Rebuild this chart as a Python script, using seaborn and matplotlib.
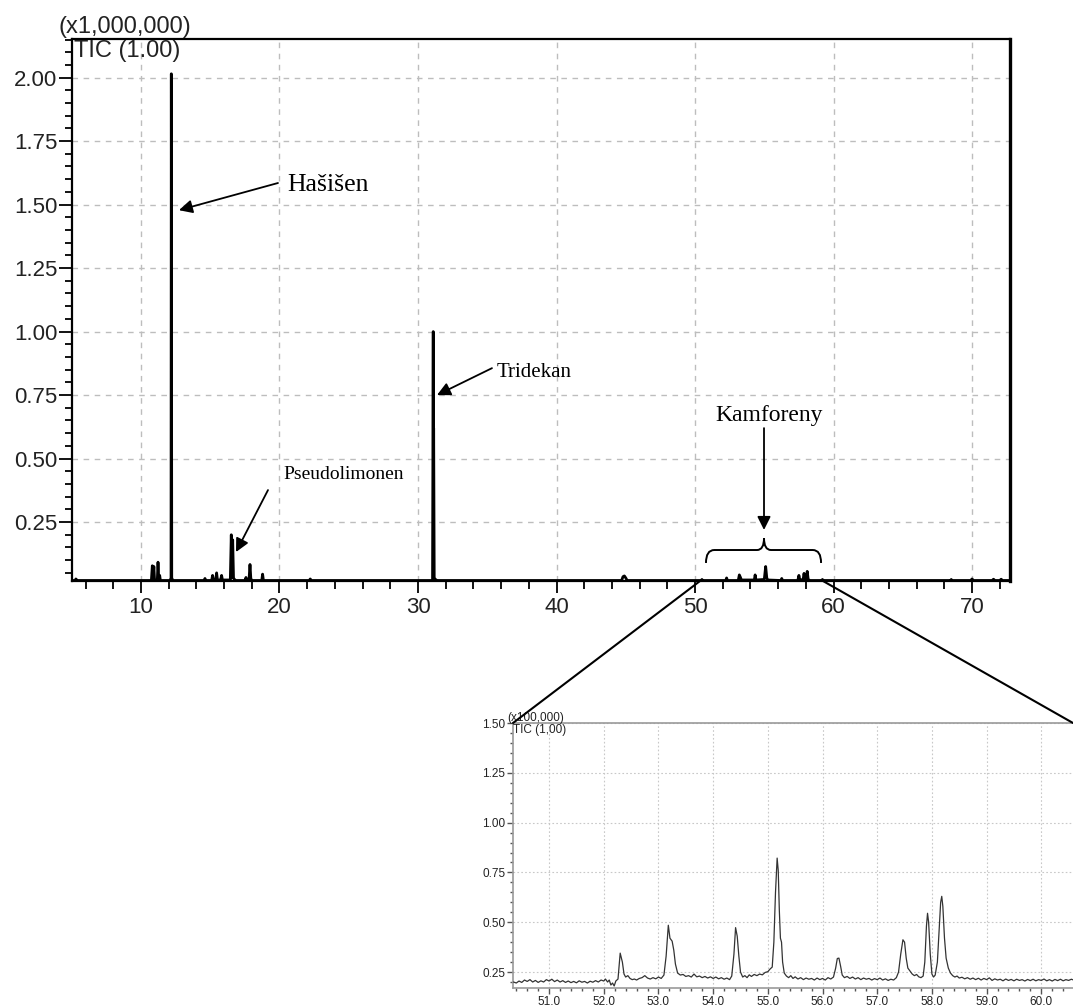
import numpy as np
import pandas as pd
import matplotlib
matplotlib.use("Agg")
import matplotlib.pyplot as plt
from matplotlib.patches import ConnectionPatch, PathPatch
from matplotlib.path import Path
from matplotlib.ticker import MultipleLocator, FormatStrFormatter
import seaborn as sns

# ---------------- data (main chromatogram, intensity x1,000,000) ----------------
main_time = [5.05, 5.25, 5.30, 5.40,
             10.75, 10.82, 10.86, 10.93, 10.98, 11.18, 11.23, 11.28, 11.35, 11.40,
             12.10, 12.17, 12.19, 12.22, 12.30,
             14.55, 14.62, 14.68, 15.10, 15.17, 15.24, 15.40, 15.46, 15.52, 15.75, 15.82, 15.88,
             16.45, 16.52, 16.57, 16.62, 16.68, 16.75, 16.85,
             17.50, 17.58, 17.65, 17.80, 17.87, 17.93, 18.00, 18.72, 18.78, 18.84,
             22.15, 22.22, 22.30,
             31.05, 31.10, 31.115, 31.13, 31.17, 31.30, 31.40,
             44.70, 44.80, 44.90, 45.00, 45.10,
             50.45, 50.50, 50.55, 52.22, 52.28, 52.34, 53.12, 53.20, 53.28, 53.35,
             54.28, 54.34, 54.40, 55.00, 55.10, 55.18, 55.25, 56.20, 56.26, 56.32,
             57.42, 57.50, 57.56, 57.80, 57.87, 57.93, 58.03, 58.10, 58.17, 58.30,
             59.15, 59.20, 59.25,
             68.45, 68.50, 68.55, 69.90, 70.00, 70.10, 71.45, 71.55, 71.65,
             72.00, 72.10, 72.20, 72.70]
main_signal = [0.020, 0.020, 0.026, 0.020,
               0.020, 0.078, 0.025, 0.075, 0.022, 0.022, 0.092, 0.030, 0.040, 0.020,
               0.020, 0.030, 2.015, 0.030, 0.020,
               0.020, 0.028, 0.020, 0.020, 0.040, 0.020, 0.022, 0.050, 0.022, 0.022, 0.040, 0.022,
               0.022, 0.200, 0.030, 0.180, 0.030, 0.024, 0.020,
               0.020, 0.032, 0.022, 0.022, 0.083, 0.028, 0.020, 0.020, 0.045, 0.020,
               0.020, 0.026, 0.020,
               0.020, 1.000, 0.300, 0.620, 0.030, 0.022, 0.020,
               0.020, 0.035, 0.038, 0.030, 0.020,
               0.020, 0.024, 0.020, 0.020, 0.030, 0.020, 0.020, 0.042, 0.032, 0.022,
               0.022, 0.042, 0.022, 0.024, 0.075, 0.030, 0.022, 0.020, 0.028, 0.020,
               0.020, 0.040, 0.024, 0.022, 0.048, 0.024, 0.024, 0.056, 0.024, 0.020,
               0.020, 0.024, 0.020,
               0.020, 0.024, 0.020, 0.020, 0.026, 0.020, 0.020, 0.025, 0.020,
               0.020, 0.025, 0.020, 0.020]

# ---------------- data (inset 50.4-60.6 min, intensity x100,000) ----------------
inset_time = [50.35, 50.40, 50.45, 50.50, 50.55, 50.60, 50.65, 50.70, 50.75, 50.80,
              50.85, 50.90, 50.95, 51.00, 51.05, 51.10, 51.15, 51.20, 51.25, 51.30,
              51.35, 51.40, 51.45, 51.50, 51.55, 51.60, 51.65, 51.70, 51.75, 51.80,
              51.85, 51.90, 51.95, 52.00, 52.03, 52.07, 52.10, 52.13, 52.16, 52.19,
              52.22, 52.26, 52.30, 52.34, 52.37, 52.40, 52.44, 52.48, 52.52, 52.56,
              52.60, 52.65, 52.70, 52.75, 52.80, 52.85, 52.90, 52.95, 53.00, 53.05,
              53.10, 53.14, 53.18, 53.21, 53.25, 53.28, 53.31, 53.35, 53.40, 53.45,
              53.50, 53.55, 53.60, 53.65, 53.70, 53.75, 53.80, 53.85, 53.90, 53.95,
              54.00, 54.05, 54.10, 54.15, 54.20, 54.25, 54.30, 54.34, 54.38, 54.41,
              54.44, 54.47, 54.50, 54.54, 54.58, 54.62, 54.66, 54.70, 54.75, 54.80,
              54.85, 54.90, 54.95, 55.00, 55.04, 55.08, 55.11, 55.14, 55.17, 55.19,
              55.21, 55.23, 55.25, 55.27, 55.30, 55.34, 55.38, 55.42, 55.46, 55.50,
              55.55, 55.60, 55.65, 55.70, 55.75, 55.80, 55.85, 55.90, 55.95, 56.00,
              56.05, 56.10, 56.15, 56.20, 56.24, 56.27, 56.30, 56.33, 56.36, 56.40,
              56.45, 56.50, 56.55, 56.60, 56.65, 56.70, 56.75, 56.80, 56.85, 56.90,
              56.95, 57.00, 57.05, 57.10, 57.15, 57.20, 57.25, 57.30, 57.35, 57.39,
              57.43, 57.47, 57.50, 57.53, 57.56, 57.60, 57.64, 57.68, 57.72, 57.76,
              57.80, 57.84, 57.87, 57.90, 57.92, 57.94, 57.97, 58.00, 58.03, 58.06,
              58.10, 58.13, 58.16, 58.18, 58.20, 58.23, 58.26, 58.30, 58.34, 58.38,
              58.42, 58.46, 58.50, 58.55, 58.60, 58.65, 58.70, 58.75, 58.80, 58.85,
              58.90, 58.95, 59.00, 59.05, 59.10, 59.15, 59.20, 59.25, 59.30, 59.35,
              59.40, 59.45, 59.50, 59.55, 59.60, 59.65, 59.70, 59.75, 59.80, 59.85,
              59.90, 59.95, 60.00, 60.05, 60.10, 60.15, 60.20, 60.25, 60.30, 60.35,
              60.40, 60.45, 60.50, 60.55, 60.60]
inset_signal = [0.200, 0.195, 0.205, 0.198, 0.210, 0.203, 0.212, 0.200, 0.208, 0.198,
                0.206, 0.200, 0.212, 0.205, 0.214, 0.202, 0.210, 0.200, 0.207, 0.198,
                0.205, 0.197, 0.203, 0.196, 0.206, 0.199, 0.203, 0.195, 0.204, 0.199,
                0.207, 0.200, 0.210, 0.205, 0.215, 0.200, 0.210, 0.185, 0.195, 0.180,
                0.205, 0.215, 0.345, 0.300, 0.240, 0.225, 0.232, 0.218, 0.212, 0.215,
                0.210, 0.218, 0.222, 0.232, 0.220, 0.215, 0.222, 0.216, 0.225, 0.218,
                0.235, 0.330, 0.485, 0.420, 0.405, 0.360, 0.290, 0.245, 0.235, 0.238,
                0.228, 0.232, 0.225, 0.240, 0.226, 0.230, 0.222, 0.228, 0.220, 0.226,
                0.218, 0.225, 0.216, 0.222, 0.214, 0.220, 0.212, 0.230, 0.340, 0.473,
                0.430, 0.330, 0.250, 0.225, 0.232, 0.222, 0.236, 0.228, 0.238, 0.232,
                0.240, 0.236, 0.248, 0.252, 0.265, 0.275, 0.400, 0.650, 0.822, 0.760,
                0.560, 0.420, 0.400, 0.300, 0.245, 0.230, 0.222, 0.232, 0.218, 0.226,
                0.215, 0.222, 0.212, 0.220, 0.214, 0.218, 0.210, 0.220, 0.212, 0.218,
                0.210, 0.222, 0.215, 0.225, 0.270, 0.318, 0.320, 0.280, 0.235, 0.222,
                0.228, 0.218, 0.225, 0.215, 0.222, 0.212, 0.220, 0.214, 0.218, 0.210,
                0.217, 0.212, 0.220, 0.210, 0.216, 0.208, 0.214, 0.210, 0.222, 0.250,
                0.340, 0.412, 0.400, 0.320, 0.270, 0.255, 0.240, 0.232, 0.238, 0.226,
                0.222, 0.230, 0.300, 0.480, 0.545, 0.500, 0.340, 0.240, 0.225, 0.235,
                0.300, 0.450, 0.600, 0.630, 0.580, 0.420, 0.320, 0.270, 0.245, 0.232,
                0.225, 0.230, 0.220, 0.224, 0.216, 0.222, 0.214, 0.220, 0.212, 0.219,
                0.210, 0.218, 0.212, 0.221, 0.208, 0.216, 0.210, 0.214, 0.206, 0.215,
                0.208, 0.213, 0.206, 0.214, 0.208, 0.212, 0.205, 0.213, 0.207, 0.214,
                0.206, 0.212, 0.208, 0.215, 0.206, 0.212, 0.205, 0.213, 0.207, 0.214,
                0.206, 0.212, 0.208, 0.214, 0.209]

peak_labels = ["Hašišen", "Pseudolimonen", "Tridekan", "Kamforeny"]

# ---------------- style ----------------
sns.set_theme(style="white")
plt.rcParams["font.family"] = ["Liberation Sans", "DejaVu Sans"]
TXT = "#222222"

fig = plt.figure(figsize=(10.73, 10.07), dpi=100)
W, H = 1073.0, 1007.0

# main axes
ax = fig.add_axes([72 / W, 1 - 581 / H, (1010 - 72) / W, (581 - 39) / H])
df_main = pd.DataFrame({"time": main_time, "signal": main_signal})
sns.lineplot(data=df_main, x="time", y="signal", ax=ax, color="black",
             linewidth=2.0, estimator=None, sort=False, zorder=3)
ax.set_xlim(5.02, 72.74)
ax.set_ylim(0.018, 2.152)
ax.set_xlabel("")
ax.set_ylabel("")
ax.xaxis.set_major_locator(MultipleLocator(10))
ax.xaxis.set_minor_locator(MultipleLocator(2))
ax.yaxis.set_major_locator(MultipleLocator(0.25))
ax.yaxis.set_minor_locator(MultipleLocator(0.05))
ax.yaxis.set_major_formatter(FormatStrFormatter("%.2f"))
ax.set_yticks([0.25, 0.50, 0.75, 1.00, 1.25, 1.50, 1.75, 2.00])
ax.grid(True, which="major", color="#bdbdbd", linestyle=(0, (4, 4)), linewidth=1.0, zorder=0)
for s in ax.spines.values():
    s.set_color("black")
    s.set_linewidth(1.6)
ax.spines["right"].set_linewidth(2.4)
ax.tick_params(axis="x", which="major", direction="out", length=8.5, width=1.3,
               color="black", labelsize=16, labelcolor=TXT, pad=3, bottom=True)
ax.tick_params(axis="x", which="minor", direction="out", length=6, width=1.3,
               color="black", bottom=True)
ax.tick_params(axis="y", which="major", direction="out", length=9.5, width=1.3,
               color="black", labelsize=16, labelcolor=TXT, pad=1, left=True)
ax.tick_params(axis="y", which="minor", direction="out", length=5, width=1.3,
               color="black", left=True)

fig.text(58 / W, 1 - 33 / H, "(x1,000,000)", fontsize=17, color=TXT, ha="left", va="baseline")
fig.text(74 / W, 1 - 57 / H, "TIC (1.00)", fontsize=17, color=TXT, ha="left", va="baseline")

# annotations
serif = ["Liberation Serif", "DejaVu Serif"]
aprops = dict(arrowstyle="-|>", color="black", lw=1.3, mutation_scale=20,
              shrinkA=0, shrinkB=0)
ax.text(20.54, 1.553, peak_labels[0], fontsize=18.5, family=serif, color="black", va="baseline")
ax.annotate("", xy=(12.74, 1.478), xytext=(19.89, 1.585), arrowprops=aprops)
ax.text(20.25, 0.419, peak_labels[1], fontsize=14, family=serif, color="black", va="baseline")
ax.annotate("", xy=(16.86, 0.132), xytext=(19.17, 0.376), arrowprops=aprops)
ax.text(35.70, 0.821, peak_labels[2], fontsize=15, family=serif, color="black", va="baseline")
ax.annotate("", xy=(31.37, 0.750), xytext=(35.34, 0.856), arrowprops=aprops)
ax.text(51.44, 0.648, peak_labels[3], fontsize=17, family=serif, color="black", va="baseline")
ax.annotate("", xy=(54.98, 0.219), xytext=(54.98, 0.620), arrowprops=aprops)

# brace over camphene region
xl, xr, xc = 50.79, 59.10, 54.98
yb, yh, yt = 0.089, 0.140, 0.187
verts = [(xl, yb), (xl, yh), (xl + 0.6, yh),
         (xc - 0.5, yh), (xc, yh), (xc, yt),
         (xc, yh), (xc + 0.5, yh),
         (xr - 0.6, yh), (xr, yh), (xr, yb)]
codes = [Path.MOVETO, Path.CURVE3, Path.CURVE3,
         Path.LINETO, Path.CURVE3, Path.CURVE3,
         Path.CURVE3, Path.CURVE3,
         Path.LINETO, Path.CURVE3, Path.CURVE3]
ax.add_patch(PathPatch(Path(verts, codes), facecolor="none", edgecolor="black", lw=1.4, zorder=4))

# inset axes
axi = fig.add_axes([513 / W, 1 - 988 / H, (1073 - 513) / W, (988 - 723) / H])
df_in = pd.DataFrame({"time": inset_time, "signal": inset_signal})
sns.lineplot(data=df_in, x="time", y="signal", ax=axi, color="#333333",
             linewidth=0.9, estimator=None, sort=False, zorder=3)
axi.set_xlim(50.34, 60.58)
axi.set_ylim(0.17, 1.50)
axi.set_xlabel("")
axi.set_ylabel("")
axi.xaxis.set_major_locator(MultipleLocator(1.0))
axi.xaxis.set_minor_locator(MultipleLocator(0.2))
axi.xaxis.set_major_formatter(FormatStrFormatter("%.1f"))
axi.set_yticks([0.25, 0.50, 0.75, 1.00, 1.25, 1.50])
axi.yaxis.set_minor_locator(MultipleLocator(0.05))
axi.yaxis.set_major_formatter(FormatStrFormatter("%.2f"))
axi.grid(True, which="major", color="#c8c8c8", linestyle=(0, (1.5, 2)), linewidth=0.8, zorder=0)
for s in axi.spines.values():
    s.set_color("#9a9a9a")
    s.set_linewidth(1.2)
axi.spines["right"].set_visible(False)
axi.tick_params(axis="both", which="major", direction="out", length=4, width=1.0,
                color="#555555", labelsize=8.5, labelcolor=TXT, pad=1.5, left=True, bottom=True)
axi.tick_params(axis="both", which="minor", direction="out", length=2.5, width=1.0,
                color="#555555", left=True, bottom=True)
fig.text(507 / W, 1 - 721 / H, "(x100,000)", fontsize=8.5, color=TXT, ha="left", va="baseline")
fig.text(513 / W, 1 - 733 / H, "TIC (1,00)", fontsize=8.5, color=TXT, ha="left", va="baseline")

# zoom connector lines
for xa, xb in [(50.36, 0.0), (59.24, 1.0)]:
    con = ConnectionPatch(xyA=(xa, 0.018), coordsA=ax.transData,
                          xyB=(xb, 1.0), coordsB=axi.transAxes,
                          color="black", lw=1.5, zorder=10)
    fig.add_artist(con)

fig.savefig("out.png", dpi=100)
